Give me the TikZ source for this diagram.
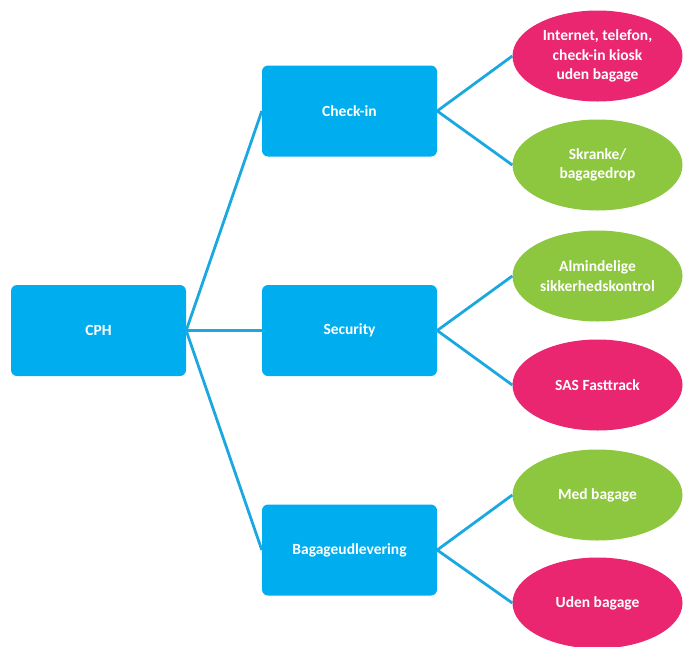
\documentclass[tikz,border=0pt]{standalone}
\usepackage{fontspec}
\setmainfont{Carlito}
\usetikzlibrary{shapes.geometric}
\definecolor{boxblue}{HTML}{00AEEF}
\definecolor{linkblue}{HTML}{1BA8E0}
\definecolor{pinkc}{HTML}{E9266F}
\definecolor{greenc}{HTML}{8DC63F}
\tikzset{
  bluebox/.style={fill=boxblue, draw=none, rounded corners=6pt, minimum width=175pt, minimum height=91pt, text=white, font=\fontsize{15.5}{19}\selectfont\bfseries, align=center},
  leaf/.style={ellipse, draw=none, minimum width=170pt, minimum height=91pt, inner sep=0pt, text=white, font=\fontsize{15.5}{19.5}\selectfont\bfseries, align=center},
  pinkleaf/.style={leaf, fill=pinkc},
  greenleaf/.style={leaf, fill=greenc},
  link/.style={draw=linkblue, line width=2.8pt}
}
\begin{document}
\begin{tikzpicture}[x=1pt,y=-1pt]
\useasboundingbox (0,0) rectangle (683,646);
\node[bluebox] (cph) at (98.5,330.5) {CPH};
\node[bluebox] (checkin) at (349.5,111) {Check-in};
\node[bluebox] (security) at (349.5,330.5) {Security};
\node[bluebox] (bagage) at (349.5,550) {Bagageudlevering};
\node[pinkleaf] (internet) at (597.5,56) {Internet, telefon,\\check-in kiosk\\uden bagage};
\node[greenleaf] (skranke) at (597.5,165) {Skranke/\\bagagedrop};
\node[greenleaf] (alm) at (597.5,276) {Almindelige\\sikkerhedskontrol};
\node[pinkleaf] (sas) at (597.5,385) {SAS Fasttrack};
\node[greenleaf] (med) at (597.5,495) {Med bagage};
\node[pinkleaf] (uden) at (597.5,603) {Uden bagage};
\draw[link] (cph.east) -- (checkin.west);
\draw[link] (cph.east) -- (security.west);
\draw[link] (cph.east) -- (bagage.west);
\draw[link] (checkin.east) -- (internet.west);
\draw[link] (checkin.east) -- (skranke.west);
\draw[link] (security.east) -- (alm.west);
\draw[link] (security.east) -- (sas.west);
\draw[link] (bagage.east) -- (med.west);
\draw[link] (bagage.east) -- (uden.west);
\end{tikzpicture}
\end{document}
